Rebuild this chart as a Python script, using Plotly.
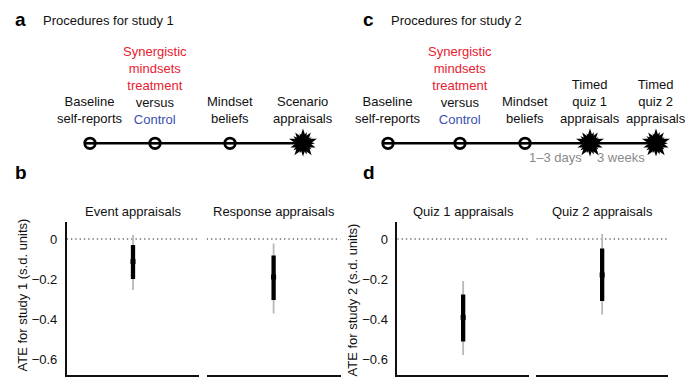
import plotly.graph_objects as go

W, H = 686, 377
FONT = "Liberation Sans, Arial, sans-serif"
RED = "#e8202f"
BLUE = "#3a4fb0"
GREY_TXT = "#8a8a8a"

# ---- study procedures (timeline) ----
treat_label = (f"<span style='color:{RED}'>Synergistic<br>mindsets<br>treatment</span>"
               f"<br>versus<br><span style='color:{BLUE}'>Control</span>")
study1_steps = ["Baseline<br>self-reports", treat_label, "Mindset<br>beliefs", "Scenario<br>appraisals"]
study1_kind = ["visit", "visit", "visit", "outcome"]
study1_pos = [90, 155, 230, 303]

study2_steps = ["Baseline<br>self-reports", treat_label, "Mindset<br>beliefs",
                "Timed<br>quiz 1<br>appraisals", "Timed<br>quiz 2<br>appraisals"]
study2_kind = ["visit", "visit", "visit", "outcome", "outcome"]
study2_pos = [388, 460, 525, 590, 656]
study2_gaps = ["", "", "1\u20133 days", "3 weeks"]

# ---- treatment effects (s.d. units) ----
outcomes1 = ["Event appraisals", "Response appraisals"]
ate1 = [-0.113, -0.19]
inner1_lo = [-0.20, -0.305]
inner1_hi = [-0.03, -0.083]
outer1_lo = [-0.255, -0.372]
outer1_hi = [0.02, -0.022]

outcomes2 = ["Quiz 1 appraisals", "Quiz 2 appraisals"]
ate2 = [-0.393, -0.18]
inner2_lo = [-0.513, -0.31]
inner2_hi = [-0.277, -0.047]
outer2_lo = [-0.58, -0.377]
outer2_hi = [-0.21, 0.025]

y_ticks = [0, -0.2, -0.4, -0.6]
y_tick_text = ["0", "\u22120.2", "\u22120.4", "\u22120.6"]
y_range = [-0.68, 0.0835]


def px(x):
    return x / W


def py(y):
    return 1 - y / H


fig = go.Figure()

# facet geometry (pixels)
facets = [
    (66.7, 199.3), (206.7, 340.5),   # study 1
    (397.3, 529.0), (536.3, 668.0),  # study 2
]
y_dom = [py(375), py(222.3)]

est_sets = [
    (outcomes1[0], ate1[0], inner1_lo[0], inner1_hi[0], outer1_lo[0], outer1_hi[0]),
    (outcomes1[1], ate1[1], inner1_lo[1], inner1_hi[1], outer1_lo[1], outer1_hi[1]),
    (outcomes2[0], ate2[0], inner2_lo[0], inner2_hi[0], outer2_lo[0], outer2_hi[0]),
    (outcomes2[1], ate2[1], inner2_lo[1], inner2_hi[1], outer2_lo[1], outer2_hi[1]),
]

for i, ((x0, x1), (name, est, ilo, ihi, olo, ohi)) in enumerate(zip(facets, est_sets)):
    n = i + 1
    xa = "x" if n == 1 else f"x{n}"
    ya = "y" if n == 1 else f"y{n}"
    # zero reference
    fig.add_trace(go.Scatter(x=[0, 1], y=[0, 0], xaxis=xa, yaxis=ya, mode="lines",
                             line=dict(color="#6a6a6a", width=1.3, dash="1.3px,3px"),
                             hoverinfo="skip", showlegend=False))
    # outer interval
    fig.add_trace(go.Scatter(x=[0.5, 0.5], y=[olo, ohi], xaxis=xa, yaxis=ya, mode="lines",
                             line=dict(color="#b8b8b8", width=1.8),
                             hoverinfo="skip", showlegend=False))
    # inner interval
    fig.add_trace(go.Scatter(x=[0.5, 0.5], y=[ilo, ihi], xaxis=xa, yaxis=ya, mode="lines",
                             line=dict(color="#000000", width=4.3),
                             hoverinfo="skip", showlegend=False))
    # point estimate
    fig.add_trace(go.Scatter(x=[0.5], y=[est], xaxis=xa, yaxis=ya, mode="markers",
                             marker=dict(symbol="square", size=5, color="#000000"),
                             hoverinfo="skip", showlegend=False))
    fig.add_annotation(text=name, x=px((x0 + x1) / 2), y=py(211.5), xref="paper", yref="paper",
                       xanchor="center", yanchor="middle", showarrow=False,
                       font=dict(size=13, color="#111"))

axis_common = dict(range=[0, 1], showgrid=False, zeroline=False, showticklabels=False,
                   ticks="", showline=True, linecolor="#111", linewidth=1.5, fixedrange=True)
layout = {}
for i, (x0, x1) in enumerate(facets):
    n = i + 1
    xk = "xaxis" if n == 1 else f"xaxis{n}"
    yk = "yaxis" if n == 1 else f"yaxis{n}"
    layout[xk] = dict(domain=[px(x0), px(x1)], anchor="y" if n == 1 else f"y{n}", **axis_common)
    first = n in (1, 3)
    layout[yk] = dict(domain=y_dom, anchor="x" if n == 1 else f"x{n}", range=y_range,
                      showgrid=False, zeroline=False, fixedrange=True,
                      tickvals=y_ticks, ticktext=y_tick_text, ticks="",
                      showticklabels=first, showline=first, linecolor="#111", linewidth=1.5,
                      ticklabelstandoff=5, tickfont=dict(size=13, color="#111"))

# overlay axis in pixel units for the procedure timelines
layout["xaxis5"] = dict(domain=[0, 1], range=[0, W], visible=False, anchor="y5", fixedrange=True)
layout["yaxis5"] = dict(domain=[0, 1], range=[H, 0], visible=False, anchor="x5", fixedrange=True)

LINE_Y = 143.3


def add_timeline(steps, kinds, pos, gaps=None):
    ys = [LINE_Y] * len(pos)
    fig.add_trace(go.Scatter(x=[pos[0], pos[-1]], y=[LINE_Y, LINE_Y], xaxis="x5", yaxis="y5",
                             mode="lines", line=dict(color="#000", width=2.6),
                             hoverinfo="skip", showlegend=False))
    vx = [p for p, k in zip(pos, kinds) if k == "visit"]
    ox = [p for p, k in zip(pos, kinds) if k == "outcome"]
    fig.add_trace(go.Scatter(x=vx, y=[LINE_Y] * len(vx), xaxis="x5", yaxis="y5", mode="markers",
                             marker=dict(symbol="circle", size=10.5, color="#fff",
                                         line=dict(color="#000", width=2.8)),
                             hoverinfo="skip", showlegend=False))
    fig.add_trace(go.Scatter(x=vx, y=[LINE_Y] * len(vx), xaxis="x5", yaxis="y5", mode="markers",
                             marker=dict(symbol="line-ew", size=8,
                                         line=dict(color="#000", width=2.6)),
                             hoverinfo="skip", showlegend=False))
    # outcome bursts: overlapping stars
    for size, ang in [(21, 0), (19, 36), (17, 18), (15, 54)]:
        fig.add_trace(go.Scatter(x=ox, y=[LINE_Y] * len(ox), xaxis="x5", yaxis="y5", mode="markers",
                                 marker=dict(symbol="star", size=size, angle=ang, color="#000",
                                             line=dict(width=0)),
                                 hoverinfo="skip", showlegend=False))
    for label, p in zip(steps, pos):
        nlines = label.count("<br>") + 1
        bottom_line = 118.3
        center = bottom_line - (nlines - 1) * 16.4 / 2
        fig.add_annotation(text=label, x=p, y=center, xref="x5", yref="y5",
                           xanchor="center", yanchor="middle", showarrow=False, align="center",
                           font=dict(size=13, color="#111"))
    if gaps:
        for g, a, b in zip(gaps, pos[:-1], pos[1:]):
            if g:
                fig.add_annotation(text=g, x=(a + b) / 2 - 2.5, y=157.5, xref="x5", yref="y5",
                                   xanchor="center", yanchor="middle", showarrow=False,
                                   font=dict(size=13, color=GREY_TXT))


add_timeline(study1_steps, study1_kind, study1_pos)
add_timeline(study2_steps, study2_kind, study2_pos, study2_gaps)

# panel letters and headings
for letter, x, y in [("a", 13, 19), ("c", 361, 19), ("b", 13, 172), ("d", 361, 172)]:
    fig.add_annotation(text=f"<b>{letter}</b>", x=px(x), y=py(y), xref="paper", yref="paper",
                       xanchor="left", yanchor="middle", showarrow=False,
                       font=dict(size=19, color="#000"))
for text, x in [("Procedures for study 1", 41), ("Procedures for study 2", 388.5)]:
    fig.add_annotation(text=text, x=px(x), y=py(20.5), xref="paper", yref="paper",
                       xanchor="left", yanchor="middle", showarrow=False,
                       font=dict(size=13, color="#111"))

# y-axis titles
for text, x, y in [("ATE for study 1 (s.d. units)", 21.5, 295),
                   ("ATE for study 2 (s.d. units)", 351.5, 300)]:
    fig.add_annotation(text=text, x=px(x), y=py(y), xref="paper", yref="paper",
                       xanchor="center", yanchor="middle", textangle=-90, showarrow=False,
                       font=dict(size=13, color="#111"))

fig.update_layout(
    width=W, height=H, margin=dict(l=0, r=0, t=0, b=0),
    paper_bgcolor="#fff", plot_bgcolor="rgba(0,0,0,0)",
    font=dict(family=FONT, size=13, color="#111"),
    showlegend=False,
    **layout,
)

fig.write_html("out.html", config={"displayModeBar": False})
